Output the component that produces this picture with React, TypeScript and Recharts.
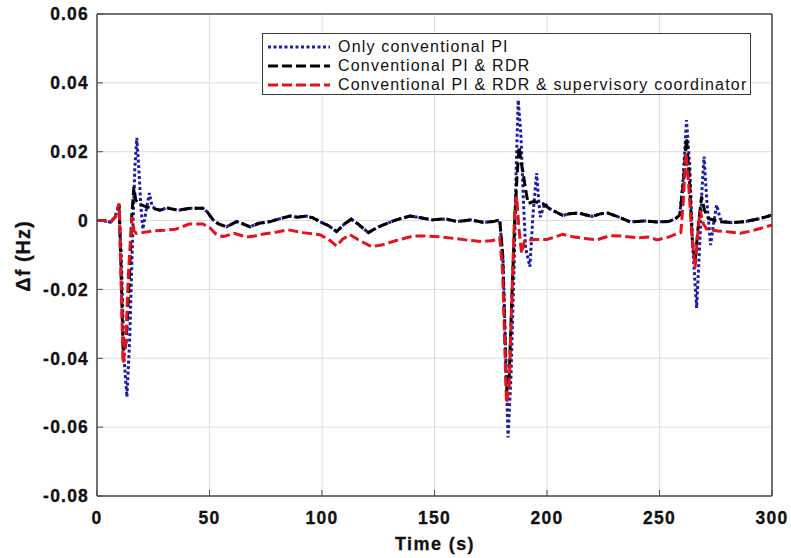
import React from 'react'
import { LineChart, Line, XAxis, YAxis, CartesianGrid, Legend } from 'recharts'

// time axis (s) and frequency deviation (Hz) for each controller setup
const piTime = [
  0, 3, 6, 8, 9.8, 10.8, 12, 13.3, 14.5, 15.8, 16.8, 17.7, 18.6, 19.5, 20.4, 21.6, 23.3, 24.5, 26, 28,
  31, 36, 42, 47, 49, 51.6, 54, 57.6, 62, 65, 68, 72, 77, 81, 85.8, 89, 93, 96, 99, 103,
  106.5, 110, 113, 116, 120.6, 124, 127, 133, 139, 144, 149, 155, 160, 166, 171.6, 176, 179,
  180.5, 182.7, 184, 185.5, 186.3, 187.2, 188.4, 189.5, 190.5, 192.4, 193.8, 195.4, 196.3, 197, 199,
  201, 204, 207, 210, 214, 220, 224, 227, 232, 237, 243, 249, 254, 257, 259,
  260.5, 262, 263.5, 264.8, 266.5, 267.8, 268.8, 269.8, 271, 272.7, 274, 275.4, 277, 279, 282, 288, 294.7, 300,
]
const piDf = [
  0, 0, -0.0005, 0.001, 0.0045, -0.01, -0.04, -0.0512, -0.035, -0.005, 0.015, 0.024, 0.015, 0.004, -0.0025, 0.002, 0.008, 0.004, 0.0035, 0.003,
  0.0037, 0.003, 0.0036, 0.0036, 0.0025, 0.0002, -0.001, -0.0018, -0.0003, -0.001, -0.0018, -0.0008, -0.0003, 0.0005, 0.0013, 0.001, 0.0013, 0.0008, -0.0003, -0.0015,
  -0.0032, -0.001, 0.0004, -0.001, -0.0035, -0.0022, -0.0013, 0.0002, 0.0013, 0.0008, 0.0002, 0.0005, -0.0003, 0.0002, -0.0005, -0.0003, 0.0002,
  -0.012, -0.063, -0.045, -0.01, 0.015, 0.035, 0.025, 0.006, -0.008, -0.0134, 0.002, 0.0138, 0.006, 0.001, 0.005,
  0.0035, 0.0025, 0.0015, 0.002, 0.0022, 0.0012, 0.002, 0.0022, 0.001, -0.0004, -0.0001, -0.0004, -0.0003, 0.0005, 0.0016,
  0.012, 0.0292, 0.015, -0.008, -0.0254, -0.008, 0.008, 0.0186, 0.006, -0.0071, -0.001, 0.0045, 0.0005, -0.0003, -0.0006, -0.0003, 0.0006, 0.0016,
]

const rdrTime = [
  0, 3, 6, 8, 9.8, 10.5, 11.7, 13, 14.5, 15.5, 16.4, 17.2, 18.5, 20, 22, 25, 28,
  31, 36, 42, 47, 49, 51.6, 54, 57.6, 62, 65, 68, 72, 77, 81, 85.8, 89, 93, 96, 99, 103,
  106.5, 110, 113, 116, 120.6, 124, 127, 133, 139, 144, 149, 155, 160, 166, 171.6, 176, 179,
  180.3, 182, 183.2, 184.5, 185.8, 186.6, 187.6, 188.5, 189.4, 190.5, 191.6, 194, 198,
  201, 204, 207, 210, 214, 220, 224, 227, 232, 237, 243, 249, 254, 257, 259,
  260.5, 262, 263.3, 264.5, 265.8, 267, 268.7, 270, 271.8, 276, 282, 288, 294.7, 300,
]
const rdrDf = [
  0, 0, -0.0005, 0.001, 0.0045, -0.01, -0.04, -0.035, -0.015, 0.002, 0.0098, 0.006, 0.005, 0.0045, 0.004, 0.0035, 0.003,
  0.0037, 0.003, 0.0036, 0.0036, 0.0025, 0.0002, -0.001, -0.0018, -0.0003, -0.001, -0.0018, -0.0008, -0.0003, 0.0005, 0.0013, 0.001, 0.0013, 0.0008, -0.0003, -0.0015,
  -0.0032, -0.001, 0.0004, -0.001, -0.0035, -0.0022, -0.0013, 0.0002, 0.0013, 0.0008, 0.0002, 0.0005, -0.0003, 0.0002, -0.0005, -0.0003, 0.0002,
  -0.01, -0.05, -0.045, -0.02, 0.002, 0.012, 0.0215, 0.017, 0.0138, 0.009, 0.005, 0.0055, 0.005,
  0.0035, 0.0025, 0.0015, 0.002, 0.0022, 0.0012, 0.002, 0.0022, 0.001, -0.0004, -0.0001, -0.0004, -0.0003, 0.0005, 0.0016,
  0.01, 0.0239, 0.012, -0.005, -0.012, -0.003, 0.007, 0.003, 0.0006, -0.0003, -0.0006, -0.0003, 0.0006, 0.0016,
]

const supTime = [
  0, 3, 6, 8, 9.8, 10.5, 11.6, 12.8, 14, 15.5, 16.5, 17.5, 20, 25, 30, 35, 41, 47, 50, 53,
  56, 61, 66.5, 70, 74, 80, 85, 91.6, 99, 103, 106.5, 109, 112.4, 116, 122, 127, 133, 140.5, 147,
  153.8, 160, 166, 171.6, 176, 179, 180.3, 182, 183.2, 184.5, 185.6, 186.5, 187.5, 188.7, 190, 190.9,
  195, 200, 207, 212, 217, 222, 228, 233, 240, 245, 249, 254, 257, 259.5,
  260.5, 261.8, 263, 264.5, 265.8, 267, 268, 269.5, 271, 276, 281, 286, 291, 294.7, 300,
]
const supDf = [
  0, 0, -0.0005, 0.001, 0.005, -0.012, -0.0415, -0.035, -0.015, 0.001, -0.003, -0.0037, -0.0035, -0.003, -0.0028, -0.0025, -0.001, -0.001, -0.002, -0.004,
  -0.0047, -0.0037, -0.0048, -0.0045, -0.0039, -0.0033, -0.0027, -0.0035, -0.0041, -0.0055, -0.0074, -0.0055, -0.0041, -0.0055, -0.0076, -0.007, -0.0058, -0.0045, -0.0045,
  -0.0048, -0.0053, -0.0058, -0.0061, -0.0058, -0.005, -0.015, -0.053, -0.048, -0.02, 0.002, 0.007, -0.002, -0.0095, -0.006, -0.0057,
  -0.0055, -0.0055, -0.004, -0.0048, -0.0052, -0.0056, -0.0044, -0.0045, -0.005, -0.0048, -0.0056, -0.0048, -0.004, -0.0035,
  0.005, 0.0196, 0.01, -0.005, -0.0138, -0.004, 0.003, -0.001, -0.0025, -0.003, -0.0033, -0.0037, -0.003, -0.0023, -0.0013,
]

const xTicks = [0, 50, 100, 150, 200, 250, 300]
const yTicks = [-0.08, -0.06, -0.04, -0.02, 0, 0.02, 0.04, 0.06]

const seriesNames = [
  'Only conventional PI',
  'Conventional PI & RDR',
  'Conventional PI & RDR & supervisory coordinator',
]

const toRows = (ts: number[], vs: number[]) => ts.map((t, i) => ({ t, df: vs[i] }))

const piData = toRows(piTime, piDf)
const rdrData = toRows(rdrTime, rdrDf)
const supData = toRows(supTime, supDf)

const font = '"Liberation Sans", Arial, sans-serif'
const axisColor = '#4a4a4a'
const gridColor = '#dedede'

const styles = [
  { color: '#1c1ca8', dash: '3 2.5' },
  { color: '#000000', dash: '10 4' },
  { color: '#e3141c', dash: '10 4' },
]

function LeftTick({ x, y, payload }: any) {
  const v = payload.value
  const txt = v === 0 ? '0' : v.toFixed(2)
  return (
    <g>
      <line x1={x + 8} x2={x + 14} y1={y} y2={y} stroke={axisColor} strokeWidth={1} />
      <text x={x} y={y} dy="0.36em" textAnchor="end" fontFamily={font} fontWeight="bold" fontSize={17.5} letterSpacing={1.2} fill="#111" stroke="#111" strokeWidth={0.3}>
        {txt}
      </text>
    </g>
  )
}

function BottomTick({ x, y, payload }: any) {
  return (
    <g>
      <line x1={x} x2={x} y1={y - 15} y2={y - 21} stroke={axisColor} strokeWidth={1} />
      <text x={x} y={y} dy="0.72em" textAnchor="middle" fontFamily={font} fontWeight="bold" fontSize={17.5} letterSpacing={1.2} fill="#111" stroke="#111" strokeWidth={0.3}>
        {payload.value}
      </text>
    </g>
  )
}

// top / right axes only draw the inward ticks and the grid line through the plot
function TopTick({ x, y }: any) {
  return (
    <g>
      <line x1={x} x2={x} y1={y} y2={496} stroke={gridColor} strokeWidth={1} />
      <line x1={x} x2={x} y1={y} y2={y + 6} stroke={axisColor} strokeWidth={1} />
    </g>
  )
}

function RightTick({ x, y }: any) {
  return (
    <g>
      <line x1={97} x2={x} y1={y} y2={y} stroke={gridColor} strokeWidth={1} />
      <line x1={x} x2={x - 6} y1={y} y2={y} stroke={axisColor} strokeWidth={1} />
    </g>
  )
}

function LegendBox() {
  return (
    <div
      style={{
        width: 489,
        height: 62,
        boxSizing: 'border-box',
        border: '1px solid #3a3a3a',
        background: '#fff',
        padding: '3px 0 0 3px',
        fontFamily: font,
        fontSize: 16,
        letterSpacing: 1.2,
        color: '#111',
      }}
    >
      {seriesNames.map((name, i) => (
        <div key={name} style={{ display: 'flex', alignItems: 'center', height: 19 }}>
          <svg width={66} height={10} style={{ marginRight: 6 }}>
            <line x1={2} x2={64} y1={5} y2={5} stroke={styles[i].color} strokeWidth={3} strokeDasharray={styles[i].dash} />
          </svg>
          <span style={{ whiteSpace: 'nowrap' }}>{name}</span>
        </div>
      ))}
    </div>
  )
}

function YLabel() {
  return (
    <text x={23} y={256} transform="rotate(-90 23 256)" textAnchor="middle" dy="0.36em" fontFamily={font} fontWeight="bold" fontSize={20} letterSpacing={1} fill="#111" stroke="#111" strokeWidth={0.3}>
      Δf (Hz)
    </text>
  )
}

function XLabel() {
  return (
    <text x={435} y={550} textAnchor="middle" fontFamily={font} fontWeight="bold" fontSize={18} letterSpacing={1.4} fill="#111" stroke="#111" strokeWidth={0.3}>
      Time (s)
    </text>
  )
}

export default function App() {
  return (
    <div style={{ position: 'absolute', left: 0, top: 0, background: '#fff' }}>
      <LineChart width={791} height={558} margin={{ top: 0, right: 0, left: 0, bottom: 0 }}>
        <CartesianGrid xAxisId="b" yAxisId="l" stroke={gridColor} horizontalValues={yTicks} verticalValues={xTicks} />
        <XAxis
          xAxisId="top"
          orientation="top"
          type="number"
          domain={[0, 300]}
          ticks={xTicks}
          height={14}
          tickSize={0}
          tickMargin={0}
          tick={<TopTick />}
          axisLine={{ stroke: axisColor, strokeWidth: 1.5 }}
        />
        <YAxis
          yAxisId="right"
          orientation="right"
          type="number"
          domain={[-0.08, 0.06]}
          ticks={yTicks}
          width={19}
          tickSize={0}
          tickMargin={0}
          tick={<RightTick />}
          axisLine={{ stroke: axisColor, strokeWidth: 1.5 }}
        />
        <XAxis
          xAxisId="b"
          dataKey="t"
          type="number"
          domain={[0, 300]}
          ticks={xTicks}
          allowDuplicatedCategory={false}
          height={62}
          tickSize={0}
          tickMargin={15}
          tick={<BottomTick />}
          axisLine={{ stroke: axisColor, strokeWidth: 1.5 }}
          label={<XLabel />}
        />
        <YAxis
          yAxisId="l"
          type="number"
          domain={[-0.08, 0.06]}
          ticks={yTicks}
          width={97}
          tickSize={0}
          tickMargin={8}
          tick={<LeftTick />}
          axisLine={{ stroke: axisColor, strokeWidth: 1.5 }}
          label={<YLabel />}
        />
        <Legend
          layout="vertical"
          verticalAlign="middle"
          align="center"
          content={<LegendBox />}
          wrapperStyle={{ position: 'absolute', left: 262, top: 33, width: 489 }}
        />
        <Line xAxisId="b" yAxisId="l" data={piData} dataKey="df" name={seriesNames[0]} type="linear" stroke={styles[0].color} strokeWidth={3} strokeDasharray={styles[0].dash} dot={false} isAnimationActive={false} />
        <Line xAxisId="b" yAxisId="l" data={rdrData} dataKey="df" name={seriesNames[1]} type="linear" stroke={styles[1].color} strokeWidth={3} strokeDasharray={styles[1].dash} dot={false} isAnimationActive={false} />
        <Line xAxisId="b" yAxisId="l" data={supData} dataKey="df" name={seriesNames[2]} type="linear" stroke={styles[2].color} strokeWidth={3} strokeDasharray={styles[2].dash} dot={false} isAnimationActive={false} />
      </LineChart>
    </div>
  )
}
